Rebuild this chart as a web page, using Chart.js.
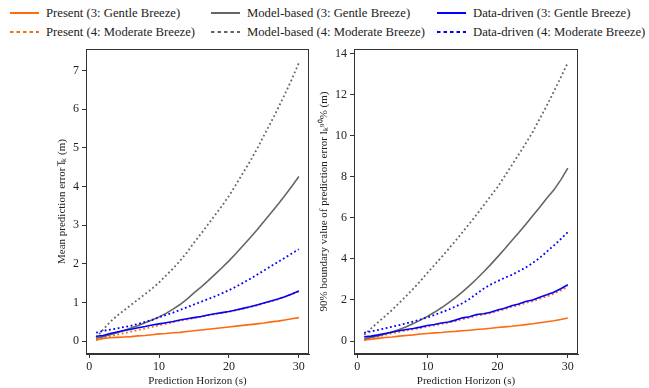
<!DOCTYPE html>
<html>
<head>
<meta charset="utf-8">
<script src="https://cdn.jsdelivr.net/npm/chart.js@4.4.0/dist/chart.umd.min.js"></script>
<style>
  html, body { margin: 0; padding: 0; background: #fff; }
  #wrap { position: relative; width: 649px; height: 388px; overflow: hidden;
          font-family: 'Liberation Serif', 'Times New Roman', serif; }
  .box { position: absolute; top: 0; }
  .legend-item { position: absolute; display: flex; align-items: center; height: 16px;
                 font-size: 12.7px; color: #222; white-space: nowrap; }
  .legend-item svg { margin-right: 7px; }
</style>
</head>
<body>
<div id="wrap">
  <div id="legend"></div>
  <div class="box" style="left:0"><canvas id="chartMean" width="330" height="388"></canvas></div>
  <div class="box" style="left:312px"><canvas id="chartBound" width="337" height="388"></canvas></div>
</div>

<script>
// Prediction horizon (s)
const horizon = [1, 2, 3, 4, 5, 6, 7, 8, 9, 10, 11, 12, 13, 14, 15, 16, 17, 18, 19, 20, 21, 22, 23, 24, 25, 26, 27, 28, 29, 30];

// Left panel: mean prediction error (m)
const meanPresentGentle   = [0.03, 0.07, 0.09, 0.10, 0.11, 0.12, 0.14, 0.15, 0.17, 0.19, 0.20, 0.22, 0.23, 0.25, 0.27, 0.29, 0.31, 0.33, 0.35, 0.37, 0.39, 0.41, 0.43, 0.45, 0.47, 0.50, 0.52, 0.55, 0.58, 0.61];
const meanPresentModerate = [0.03, 0.08, 0.13, 0.17, 0.21, 0.25, 0.29, 0.33, 0.37, 0.41, 0.45, 0.49, 0.53, 0.56, 0.60, 0.63, 0.67, 0.70, 0.73, 0.76, 0.80, 0.84, 0.88, 0.93, 0.98, 1.03, 1.08, 1.15, 1.22, 1.29];
const meanModelGentle     = [0.08, 0.12, 0.17, 0.22, 0.28, 0.34, 0.41, 0.48, 0.55, 0.63, 0.72, 0.83, 0.95, 1.09, 1.25, 1.40, 1.56, 1.73, 1.90, 2.08, 2.27, 2.47, 2.67, 2.88, 3.10, 3.32, 3.54, 3.77, 4.01, 4.26];
const meanModelModerate   = [0.10, 0.30, 0.50, 0.66, 0.80, 0.94, 1.08, 1.22, 1.36, 1.52, 1.70, 1.88, 2.08, 2.30, 2.55, 2.78, 3.02, 3.26, 3.50, 3.76, 4.05, 4.35, 4.65, 4.97, 5.32, 5.66, 6.02, 6.39, 6.78, 7.20];
const meanDataGentle      = [0.13, 0.15, 0.20, 0.24, 0.28, 0.31, 0.35, 0.38, 0.42, 0.45, 0.48, 0.51, 0.55, 0.58, 0.61, 0.64, 0.68, 0.71, 0.74, 0.77, 0.81, 0.85, 0.89, 0.94, 0.99, 1.04, 1.09, 1.15, 1.22, 1.30];
const meanDataModerate    = [0.22, 0.27, 0.30, 0.33, 0.37, 0.40, 0.45, 0.50, 0.55, 0.62, 0.68, 0.74, 0.81, 0.88, 0.95, 1.02, 1.09, 1.16, 1.24, 1.32, 1.41, 1.51, 1.61, 1.72, 1.83, 1.94, 2.05, 2.16, 2.27, 2.38];

// Right panel: 90% boundary value of prediction error (m)
const boundPresentGentle   = [0.05, 0.09, 0.13, 0.17, 0.20, 0.24, 0.27, 0.30, 0.34, 0.37, 0.40, 0.42, 0.45, 0.47, 0.50, 0.53, 0.56, 0.59, 0.62, 0.66, 0.69, 0.72, 0.76, 0.80, 0.84, 0.89, 0.94, 0.99, 1.05, 1.12];
const boundPresentModerate = [0.03, 0.12, 0.22, 0.30, 0.38, 0.45, 0.51, 0.57, 0.63, 0.70, 0.76, 0.83, 0.89, 0.97, 1.07, 1.13, 1.24, 1.29, 1.36, 1.46, 1.55, 1.66, 1.75, 1.86, 1.94, 2.06, 2.17, 2.30, 2.46, 2.65];
const boundModelGentle     = [0.12, 0.18, 0.25, 0.34, 0.44, 0.56, 0.70, 0.85, 1.02, 1.20, 1.40, 1.62, 1.86, 2.12, 2.40, 2.70, 3.02, 3.36, 3.72, 4.10, 4.48, 4.88, 5.27, 5.68, 6.10, 6.52, 6.95, 7.35, 7.85, 8.42];
const boundModelModerate   = [0.30, 0.62, 0.92, 1.22, 1.52, 1.86, 2.20, 2.55, 2.92, 3.32, 3.70, 4.08, 4.48, 4.88, 5.30, 5.72, 6.15, 6.60, 7.05, 7.50, 8.02, 8.55, 9.08, 9.62, 10.18, 10.82, 11.46, 12.14, 12.84, 13.55];
const boundDataGentle      = [0.21, 0.24, 0.30, 0.37, 0.44, 0.50, 0.56, 0.61, 0.68, 0.76, 0.81, 0.88, 0.93, 1.02, 1.13, 1.18, 1.29, 1.33, 1.40, 1.51, 1.60, 1.72, 1.80, 1.93, 2.00, 2.13, 2.25, 2.38, 2.55, 2.74];
const boundDataModerate    = [0.40, 0.47, 0.54, 0.62, 0.70, 0.78, 0.86, 0.95, 1.05, 1.15, 1.27, 1.40, 1.53, 1.68, 1.84, 2.05, 2.30, 2.55, 2.75, 2.92, 3.08, 3.22, 3.40, 3.58, 3.80, 4.05, 4.35, 4.65, 4.97, 5.30];

const seriesLabels = [
    'Present (3: Gentle Breeze)', 'Present (4: Moderate Breeze)',
    'Model-based (3: Gentle Breeze)', 'Model-based (4: Moderate Breeze)',
    'Data-driven (3: Gentle Breeze)', 'Data-driven (4: Moderate Breeze)'
];

const FONT = "'Liberation Serif', 'Times New Roman', serif";
const ORANGE = '#ff6a10';
const GRAY = '#666666';
const BLUE = '#0000ff';
const AXIS = '#333333';
const seriesColors = [ORANGE, ORANGE, GRAY, GRAY, BLUE, BLUE];
const seriesDotted = [false, true, false, true, false, true];

// Full box round the plot area, like matplotlib spines
const moldura = {
    id: 'moldura',
    afterDraw(chart) {
        const { ctx, chartArea: a } = chart;
        ctx.save();
        ctx.strokeStyle = AXIS;
        ctx.lineWidth = 1;
        ctx.strokeRect(Math.round(a.left) + 0.5, Math.round(a.top) + 0.5,
                       Math.round(a.right - a.left) - 1, Math.round(a.bottom - a.top) - 1);
        ctx.restore();
    }
};

function buildDatasets(lists) {
    return lists.map((values, i) => ({
        label: seriesLabels[i],
        data: values.map((v, j) => ({ x: horizon[j], y: v })),
        borderColor: seriesColors[i],
        borderWidth: seriesDotted[i] ? 1.8 : 1.6,
        borderDash: seriesDotted[i] ? [1.8, 2.6] : [],
        pointRadius: 0,
        fill: false,
        order: 6 - i // later series drawn on top
    }));
}

function makeChart(canvasId, lists, cfg) {
    const ctx = document.getElementById(canvasId).getContext('2d');
    return new Chart(ctx, {
        type: 'line',
        data: { datasets: buildDatasets(lists) },
        options: {
            responsive: false,
            animation: false,
            events: [],
            layout: { padding: { left: 0, top: 49, right: cfg.padRight, bottom: 0 } },
            plugins: { legend: { display: false }, tooltip: { enabled: false } },
            scales: {
                x: {
                    type: 'linear',
                    min: -0.45, max: 31.45,
                    afterFit(scale) { scale.height = 34; },
                    ticks: { stepSize: 10, includeBounds: false, padding: 2, color: '#222', font: { family: FONT, size: 12 } },
                    grid: { display: true, drawOnChartArea: false, drawTicks: true, tickLength: 4, color: AXIS },
                    border: { display: true, color: AXIS },
                    title: { display: true, text: 'Prediction Horizon (s)', color: '#222',
                             font: { family: FONT, size: 11 }, padding: { top: 0, bottom: 0 } }
                },
                y: {
                    min: cfg.yMin, max: cfg.yMax,
                    afterFit(scale) { scale.width = cfg.yWidth; },
                    ticks: { stepSize: cfg.yStep, includeBounds: false, padding: 3, color: '#222', font: { family: FONT, size: 12 } },
                    grid: { display: true, drawOnChartArea: false, drawTicks: true, tickLength: 4, color: AXIS },
                    border: { display: true, color: AXIS },
                    title: { display: true, text: cfg.yTitle, color: '#222',
                             font: { family: FONT, size: 11 }, padding: { top: cfg.yTitlePad, bottom: 0 } }
                }
            }
        },
        plugins: [moldura]
    });
}

function montaLegenda() {
    const cols = [10, 211, 437];
    const rows = [5, 24];
    const box = document.getElementById('legend');
    seriesLabels.forEach((label, i) => {
        const col = Math.floor(i / 2), row = i % 2;
        const item = document.createElement('div');
        item.className = 'legend-item';
        item.style.left = cols[col] + 'px';
        item.style.top = rows[row] + 'px';
        const dash = seriesDotted[i] ? 'stroke-dasharray="3.5 3"' : '';
        item.innerHTML = '<svg width="29" height="4"><line x1="0" y1="2" x2="29" y2="2" stroke="' +
            seriesColors[i] + '" stroke-width="2" ' + dash + '/></svg><span>' + label + '</span>';
        box.appendChild(item);
    });
}

document.addEventListener('DOMContentLoaded', () => {
    montaLegenda();

    makeChart('chartMean',
        [meanPresentGentle, meanPresentModerate, meanModelGentle, meanModelModerate, meanDataGentle, meanDataModerate],
        { padRight: 21, yWidth: 86, yMin: -0.33, yMax: 7.56, yStep: 1, yTitlePad: 56,
          yTitle: 'Mean prediction error l\u0305\u2096 (m)' });

    makeChart('chartBound',
        [boundPresentGentle, boundPresentModerate, boundModelGentle, boundModelModerate, boundDataGentle, boundDataModerate],
        { padRight: 71, yWidth: 42, yMin: -0.63, yMax: 14.22, yStep: 2, yTitlePad: 6,
          yTitle: '90% boundary value of prediction error l\u2096\u2079\u2070% (m)' });
});
</script>
</body>
</html>
